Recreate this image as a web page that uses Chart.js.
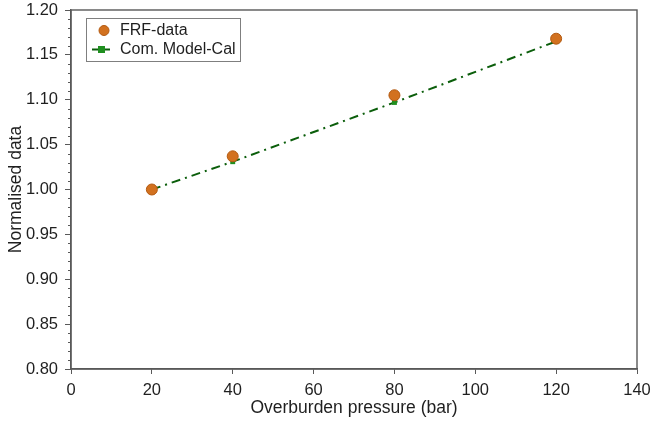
<!DOCTYPE html>
<html>
<head>
<meta charset="utf-8">
<script src="https://cdn.jsdelivr.net/npm/chart.js@4"></script>
<style>
html,body{margin:0;padding:0;background:#fff;}
#wrap{width:652px;height:427px;}
</style>
</head>
<body>
<div id="wrap"><canvas id="c" width="652" height="427"></canvas></div>
<script>
const pressure = [20, 40, 80, 120];
const frfData = [1.000, 1.037, 1.105, 1.168];
const modelCal = [1.000, 1.031, 1.097, 1.165];
const xTicks = [0, 20, 40, 60, 80, 100, 120, 140];
const yTicks = [0.80, 0.85, 0.90, 0.95, 1.00, 1.05, 1.10, 1.15, 1.20];
const seriesNames = ['FRF-data', 'Com. Model-Cal'];
const xTitle = 'Overburden pressure (bar)';
const yTitle = 'Normalised data';

const FONT = '"Liberation Sans", Arial, sans-serif';
const AXIS = '#595959';
const TEXT = '#1f1f1f';
const ORANGE = '#d2711f';
const ORANGE_EDGE = '#b35a12';
const GREEN_LINE = '#0b5e0b';
const GREEN_PT = '#1f8f1f';

const framePlugin = {
  id: 'frame',
  afterDraw(chart) {
    const {ctx, chartArea: a, scales} = chart;
    ctx.save();
    ctx.strokeStyle = AXIS;
    ctx.lineWidth = 1;
    const ys = scales.y;
    for (let i = 0; i <= 40; i++) {
      if (i % 5 === 0) continue;
      const v = 0.80 + i * 0.01;
      const py = Math.round(ys.getPixelForValue(v)) + 0.5;
      ctx.beginPath();
      ctx.moveTo(a.left - 3, py);
      ctx.lineTo(a.left, py);
      ctx.stroke();
    }
    ctx.lineWidth = 1.4;
    ctx.strokeRect(a.left, a.top, a.right - a.left, a.bottom - a.top);
    // legend
    const lx = 86, ly = 18, lw = 154, lh = 43;
    ctx.fillStyle = '#fff';
    ctx.fillRect(lx, ly, lw, lh);
    ctx.strokeStyle = '#7f7f7f';
    ctx.lineWidth = 1;
    ctx.strokeRect(lx + 0.5, ly + 0.5, lw, lh);
    const r1 = ly + 12.5, r2 = ly + 31.5;
    ctx.beginPath();
    ctx.arc(104, r1, 5, 0, Math.PI * 2);
    ctx.fillStyle = ORANGE; ctx.fill();
    ctx.strokeStyle = ORANGE_EDGE; ctx.lineWidth = 1; ctx.stroke();
    ctx.strokeStyle = GREEN_LINE; ctx.lineWidth = 2;
    ctx.beginPath(); ctx.moveTo(92, r2); ctx.lineTo(110, r2); ctx.stroke();
    ctx.fillStyle = GREEN_PT;
    ctx.fillRect(101.5 - 3.5, r2 - 3.5, 7, 7);
    ctx.fillStyle = TEXT;
    ctx.font = '16px ' + FONT;
    ctx.textBaseline = 'middle';
    ctx.textAlign = 'left';
    ctx.fillText(seriesNames[0], 120, r1);
    ctx.fillText(seriesNames[1], 120, r2);
    ctx.restore();
  }
};

new Chart(document.getElementById('c'), {
  type: 'scatter',
  data: {
    datasets: [
      {
        label: seriesNames[0],
        data: pressure.map((x, i) => ({x, y: frfData[i]})),
        showLine: false,
        pointStyle: 'circle',
        pointRadius: 5.5,
        pointBackgroundColor: ORANGE,
        pointBorderColor: ORANGE_EDGE,
        pointBorderWidth: 1,
        order: 0
      },
      {
        label: seriesNames[1],
        data: pressure.map((x, i) => ({x, y: modelCal[i]})),
        showLine: true,
        borderColor: GREEN_LINE,
        borderWidth: 2,
        borderDash: [9, 5, 2, 5],
        pointStyle: 'rect',
        pointRadius: 3.5,
        pointBackgroundColor: GREEN_PT,
        pointBorderColor: GREEN_PT,
        pointBorderWidth: 0,
        order: 1
      }
    ]
  },
  options: {
    responsive: false,
    animation: false,
    devicePixelRatio: 1,
    layout: {padding: {left: 0, top: 10, right: 15, bottom: 0}},
    plugins: {legend: {display: false}, tooltip: {enabled: false}},
    scales: {
      x: {
        type: 'linear', min: 0, max: 140,
        afterBuildTicks: s => { s.ticks = xTicks.map(v => ({value: v})); },
        afterFit: s => { s.height = 58; s.paddingLeft = 0; s.paddingRight = 0; },
        grid: {drawOnChartArea: false, drawTicks: true, tickLength: 5, color: AXIS, tickWidth: 1},
        border: {color: AXIS, width: 1.4},
        ticks: {color: TEXT, font: {family: FONT, size: 16.5}, padding: 7, maxRotation: 0,
                callback: v => String(v)},
        title: {display: true, text: xTitle, color: TEXT, font: {family: FONT, size: 17.5}, padding: {top: 0, bottom: 8}}
      },
      y: {
        type: 'linear', min: 0.80, max: 1.20,
        afterBuildTicks: s => { s.ticks = yTicks.map(v => ({value: v})); },
        afterFit: s => { s.width = 71; s.paddingTop = 0; s.paddingBottom = 0; },
        grid: {drawOnChartArea: false, drawTicks: true, tickLength: 6, color: AXIS, tickWidth: 1},
        border: {color: AXIS, width: 1.4},
        ticks: {color: TEXT, font: {family: FONT, size: 16.5}, padding: 7,
                callback: v => Number(v).toFixed(2)},
        title: {display: true, text: yTitle, color: TEXT, font: {family: FONT, size: 17.5}, padding: {top: 6, bottom: 2}}
      }
    }
  },
  plugins: [framePlugin]
});
</script>
</body>
</html>
